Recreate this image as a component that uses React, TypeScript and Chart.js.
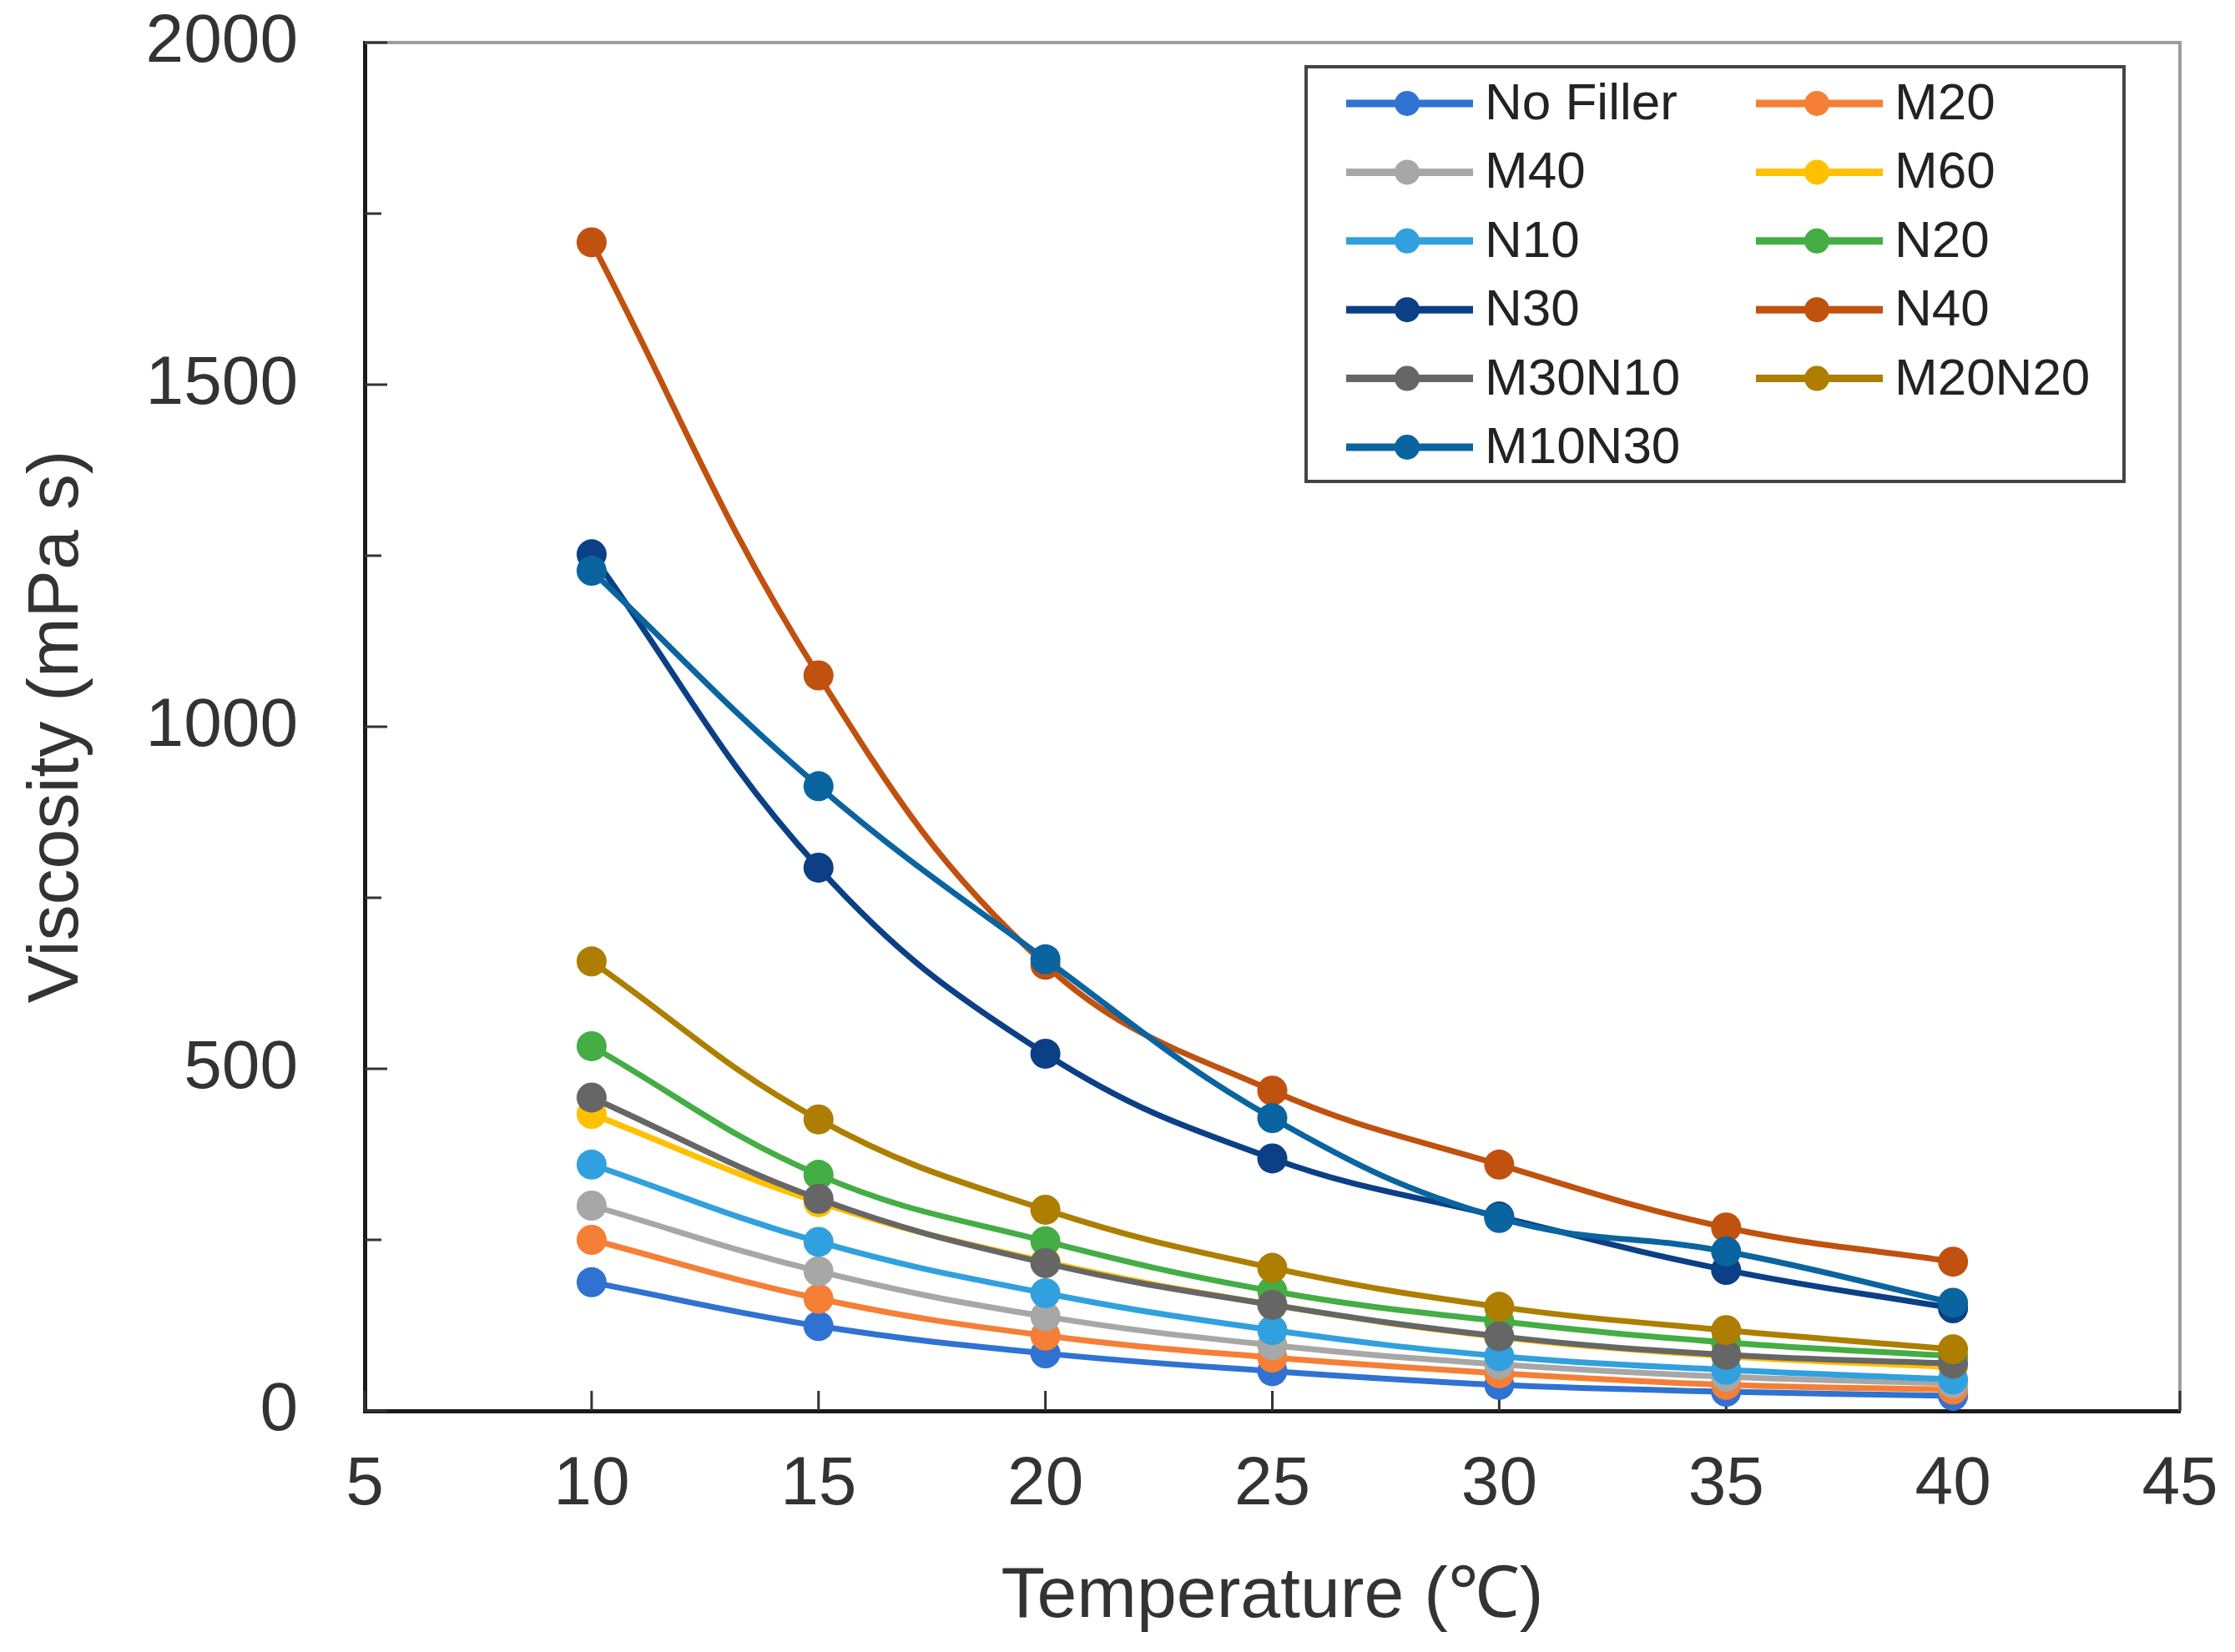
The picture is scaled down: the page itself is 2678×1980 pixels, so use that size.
import { useEffect, useRef } from 'react'
import Chart from 'chart.js/auto'

// temperature (°C) and viscosity (mPa s)
const temps = [10, 15, 20, 25, 30, 35, 40]

const noFiller = [188, 124, 84, 58, 38, 28, 22]
const m20 = [250, 164, 110, 78, 55, 38, 31]
const m40 = [300, 204, 138, 96, 68, 50, 40]
const m60 = [434, 305, 218, 155, 108, 80, 64]
const n10 = [360, 247, 172, 118, 80, 60, 46]
const n20 = [533, 345, 248, 175, 131, 100, 80]
const n30 = [1252, 794, 522, 369, 284, 206, 150]
const n40 = [1708, 1075, 652, 468, 360, 268, 218]
const m30n10 = [458, 310, 216, 155, 109, 82, 69]
const m20n20 = [657, 426, 294, 209, 152, 118, 90]
const m10n30 = [1228, 913, 660, 428, 282, 233, 158]

const seriesNames = ['No Filler', 'M20', 'M40', 'M60', 'N10', 'N20', 'N30', 'N40', 'M30N10', 'M20N20', 'M10N30']
const seriesValues = [noFiller, m20, m40, m60, n10, n20, n30, n40, m30n10, m20n20, m10n30]
const seriesColors = [
  '#2f72d2', '#f57f36', '#a7a7a7', '#ffc000', '#30a0de', '#44ad44',
  '#0b3f86', '#c0510e', '#666666', '#ad7e00', '#0a64a0',
]

const FONT = '"Liberation Sans", Arial, sans-serif'

// inward tick marks, top/right frame, boxed two-column legend
const framePlugin = {
  id: 'frame',
  beforeDatasetsDraw(chart: any) {
    const { ctx, chartArea: a, scales } = chart
    ctx.save()
    ctx.strokeStyle = '#9c9c9c'
    ctx.lineWidth = 4
    ctx.beginPath()
    ctx.moveTo(a.left, a.top)
    ctx.lineTo(a.right, a.top)
    ctx.lineTo(a.right, a.bottom)
    ctx.stroke()

    ctx.strokeStyle = '#333'
    ctx.lineWidth = 3
    scales.y.ticks.forEach((t: any) => {
      const y = scales.y.getPixelForValue(t.value)
      const len = t.value % 500 === 0 ? 27 : 20
      ctx.beginPath()
      ctx.moveTo(a.left, y)
      ctx.lineTo(a.left + len, y)
      ctx.stroke()
    })
    scales.x.ticks.forEach((t: any) => {
      const x = scales.x.getPixelForValue(t.value)
      ctx.beginPath()
      ctx.moveTo(x, a.bottom)
      ctx.lineTo(x, a.bottom - 24)
      ctx.stroke()
    })
    ctx.restore()
  },
  afterDraw(chart: any) {
    const { ctx } = chart
    const left = 1565, top = 80, right = 2545, bottom = 577
    ctx.save()
    ctx.fillStyle = '#fff'
    ctx.fillRect(left, top, right - left, bottom - top)
    ctx.strokeStyle = '#444'
    ctx.lineWidth = 4
    ctx.strokeRect(left, top, right - left, bottom - top)

    ctx.font = `62px ${FONT}`
    ctx.textBaseline = 'middle'
    ctx.textAlign = 'left'
    chart.data.datasets.forEach((ds: any, i: number) => {
      const col = i % 2
      const row = Math.floor(i / 2)
      const x0 = left + 48 + col * 491
      const y = top + 44 + row * 82.4
      ctx.strokeStyle = ds.borderColor
      ctx.lineWidth = 9
      ctx.beginPath()
      ctx.moveTo(x0, y)
      ctx.lineTo(x0 + 152, y)
      ctx.stroke()
      ctx.fillStyle = ds.borderColor
      ctx.beginPath()
      ctx.arc(x0 + 73, y, 15, 0, Math.PI * 2)
      ctx.fill()
      ctx.fillStyle = '#222'
      ctx.fillText(ds.label, x0 + 166, y + 2)
    })
    ctx.restore()
  },
}

export default function App() {
  const canvasRef = useRef<HTMLCanvasElement>(null)
  const chartRef = useRef<Chart | null>(null)

  useEffect(() => {
    if (!canvasRef.current) return
    if (chartRef.current) chartRef.current.destroy()

    const datasets = seriesNames.map((name, i) => ({
      label: name,
      data: temps.map((t, j) => ({ x: t, y: seriesValues[i][j] })),
      borderColor: seriesColors[i],
      backgroundColor: seriesColors[i],
      borderWidth: 7,
      pointRadius: 18,
      pointBorderWidth: 0,
      pointBackgroundColor: seriesColors[i],
      tension: 0.4,
      order: seriesNames.length - i,
    }))

    chartRef.current = new Chart(canvasRef.current, {
      type: 'line',
      data: { datasets },
      options: {
        animation: false,
        responsive: true,
        maintainAspectRatio: false,
        layout: { padding: { left: 0, top: 51, right: 66, bottom: 0 } },
        plugins: {
          legend: { display: false },
          tooltip: { enabled: false },
        },
        scales: {
          x: {
            type: 'linear',
            min: 5,
            max: 45,
            grid: { display: false, drawTicks: false, tickLength: 0 },
            border: { display: true, color: '#1a1a1a', width: 5 },
            ticks: {
              stepSize: 5,
              padding: 40,
              color: '#333',
              font: { family: FONT, size: 82 },
            },
            title: {
              display: true,
              text: 'Temperature (℃)',
              color: '#333',
              font: { family: FONT, size: 86 },
              padding: { top: 0, bottom: 14 },
            },
            afterFit: (s: any) => {
              s.height = 289
              s.paddingLeft = 0
              s.paddingRight = 0
            },
          },
          y: {
            min: 0,
            max: 2000,
            grid: { display: false, drawTicks: false, tickLength: 0 },
            border: { display: true, color: '#1a1a1a', width: 5 },
            ticks: {
              stepSize: 250,
              padding: 80,
              color: '#333',
              font: { family: FONT, size: 82 },
              autoSkip: false,
              callback: (v: any) => (v % 500 === 0 ? String(v) : ''),
            },
            title: {
              display: true,
              text: 'Viscosity (mPa s)',
              color: '#333',
              font: { family: FONT, size: 86 },
              padding: { top: 18, bottom: 0 },
            },
            afterFit: (s: any) => {
              s.width = 437
              s.paddingTop = 0
              s.paddingBottom = 0
            },
          },
        },
      },
      plugins: [framePlugin],
    })

    return () => {
      if (chartRef.current) {
        chartRef.current.destroy()
        chartRef.current = null
      }
    }
  }, [])

  return (
    <div style={{ position: 'absolute', left: 0, top: 0, width: 2678, height: 1980, background: '#fff' }}>
      <canvas ref={canvasRef} />
    </div>
  )
}
